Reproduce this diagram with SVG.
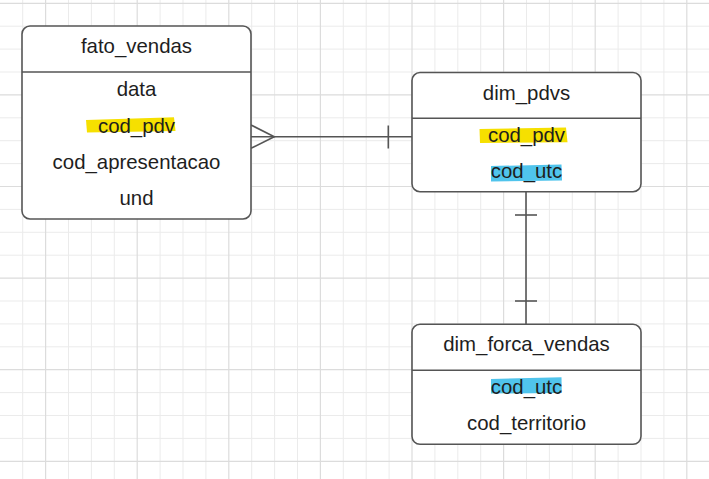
<svg xmlns="http://www.w3.org/2000/svg" width="709" height="479" viewBox="0 0 709 479">
<style>
.minor{stroke:#ebebeb;stroke-width:1;fill:none}
.major{stroke:#dcdcdc;stroke-width:1.2;fill:none}
.box{fill:#ffffff;stroke:#555555;stroke-width:1.6}
.div{stroke:#555555;stroke-width:1.6;fill:none}
.conn{stroke:#555555;stroke-width:1.6;fill:none;stroke-linejoin:miter}
.t{font-family:"Liberation Sans",Arial,sans-serif;font-size:20.4px;fill:#1e1e1e;text-anchor:middle}
.hy{fill:#f6e000}
.hb{fill:#50c4ec}
</style>
<rect x="0" y="0" width="709" height="479" fill="#ffffff"/>
<g id="grid">
<path class="minor" d="M22.7 0V479M68.5 0V479M91.4 0V479M114.3 0V479M160.1 0V479M183 0V479M205.9 0V479M251.7 0V479M274.6 0V479M297.5 0V479M343.3 0V479M366.2 0V479M389.1 0V479M434.9 0V479M457.8 0V479M480.7 0V479M526.5 0V479M549.4 0V479M572.3 0V479M618.1 0V479M641 0V479M663.9 0V479M0 26.2H709M0 49.1H709M0 72H709M0 117.8H709M0 140.7H709M0 163.6H709M0 209.4H709M0 232.3H709M0 255.2H709M0 301H709M0 323.9H709M0 346.8H709M0 392.6H709M0 415.5H709M0 438.4H709"/>
<path class="major" d="M45.6 0V479M137.2 0V479M228.8 0V479M320.4 0V479M412 0V479M503.6 0V479M595.2 0V479M686.8 0V479M0 3.3H709M0 94.9H709M0 186.5H709M0 278.1H709M0 369.7H709M0 461.3H709"/>
</g>
<g id="connectors">
<path class="conn" d="M251 136.7H412"/>
<path class="conn" d="M251 125L274.3 136.7L251 148.3"/>
<path class="conn" d="M388.3 125.5V148.5"/>
<path class="conn" d="M526 191.7V324.3"/>
<path class="conn" d="M515 215H537"/>
<path class="conn" d="M515 301H537"/>
</g>
<g id="fato_vendas">
<rect class="box" x="22" y="26" width="229" height="193" rx="8"/>
<path class="div" d="M22 72H251"/>
<text class="t" x="136.5" y="53.3">fato_vendas</text>
<text class="t" x="136.5" y="96">data</text>
<path class="hy" d="M86 120L174 117.2L175.5 131L87 132.5Z"/>
<text class="t" x="136.5" y="132.7">cod_pdv</text>
<text class="t" x="136.5" y="169">cod_apresentacao</text>
<text class="t" x="136.5" y="204.5">und</text>
</g>
<g id="dim_pdvs">
<rect class="box" x="412" y="72.5" width="229" height="119.2" rx="8"/>
<path class="div" d="M412 118.3H641"/>
<text class="t" x="526.5" y="100.4">dim_pdvs</text>
<path class="hy" d="M479.5 129L566 127.5L567.5 142.2L480 143Z"/>
<text class="t" x="526.5" y="142">cod_pdv</text>
<path class="hb" d="M491 166L561.5 164.5L562 180.5L491 181.5Z"/>
<text class="t" x="526.5" y="178.4">cod_utc</text>
</g>
<g id="dim_forca_vendas">
<rect class="box" x="412" y="324.3" width="229" height="120" rx="8"/>
<path class="div" d="M412 370.3H641"/>
<text class="t" x="526.5" y="351">dim_forca_vendas</text>
<path class="hb" d="M491 379L561.5 377.3L561.8 393L491 393.5Z"/>
<text class="t" x="526.5" y="394.4">cod_utc</text>
<text class="t" x="526.5" y="430.4">cod_territorio</text>
</g>
</svg>
